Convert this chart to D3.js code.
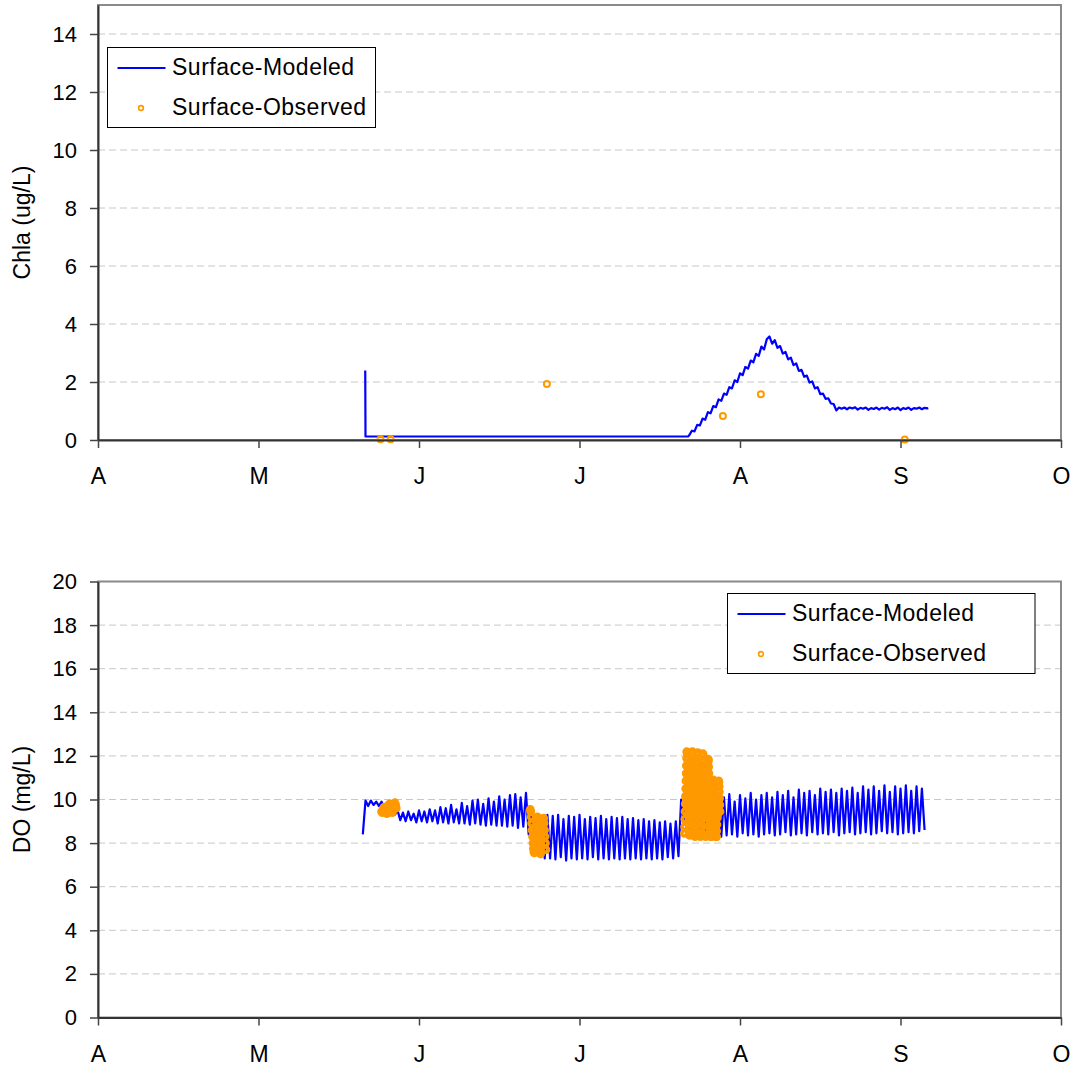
<!DOCTYPE html>
<html>
<head>
<meta charset="utf-8">
<script src="https://cdn.jsdelivr.net/npm/d3@7/dist/d3.min.js"></script>
<style>
  body { margin: 0; background: #fff; }
  svg { display: block; font-family: "Liberation Sans", Arial, sans-serif; }
  .grid line { stroke: #c8c8c8; stroke-width: 1; stroke-dasharray: 7 4; }
  .axis .domain { stroke: #333; stroke-width: 2; }
  .axis .tick line { stroke: #444; stroke-width: 1.5; }
  .axis text { fill: #000; }
</style>
</head>
<body>
<script>
// x axis: days since 1 April, month ticks drawn equally spaced like the original
const monthLabels = ["A", "M", "J", "J", "A", "S", "O"];
const monthDays = [0, 30, 60, 90, 120, 150, 180];

const chlaTicks = [0, 2, 4, 6, 8, 10, 12, 14];
const doTicks = [0, 2, 4, 6, 8, 10, 12, 14, 16, 18, 20];

// Chla surface modeled [day, ug/L]
const chlaModeled = [
  [49.95, 2.4], [50.0, 0.12], [110.3, 0.12],
  [110.5, 0.16], [111, 0.32], [111.5, 0.3], [112, 0.52], [112.5, 0.5], [113, 0.74], [113.5, 0.7],
  [114, 0.96], [114.5, 0.92], [115, 1.17], [115.5, 1.13], [116, 1.4], [116.5, 1.35], [117, 1.6],
  [117.5, 1.56], [118, 1.82], [118.5, 1.78], [119, 2.06], [119.5, 2.0], [120, 2.3], [120.5, 2.24],
  [121, 2.52], [121.5, 2.46], [122, 2.74], [122.5, 2.68], [123, 2.97], [123.5, 2.9], [124, 3.22],
  [124.5, 3.12], [125, 3.47], [125.5, 3.57], [126, 3.32], [126.5, 3.44], [127, 3.18], [127.5, 3.24],
  [128, 2.98], [128.5, 3.04], [129, 2.78], [129.5, 2.84], [130, 2.58], [130.5, 2.64], [131, 2.38],
  [131.5, 2.42], [132, 2.18], [132.5, 2.22], [133, 1.98], [133.5, 2.02], [134, 1.78], [134.5, 1.82],
  [135, 1.58], [135.5, 1.6], [136, 1.42], [136.5, 1.44], [137, 1.26], [137.5, 1.24], [138, 1.02],
  [138.5, 1.12], [139, 1.08], [139.5, 1.12], [140, 1.06], [140.5, 1.12], [141, 1.09], [141.5, 1.13],
  [142, 1.05], [142.5, 1.11], [143, 1.08], [143.5, 1.12], [144, 1.04], [144.5, 1.1], [145, 1.07],
  [145.5, 1.12], [146, 1.05], [146.5, 1.11], [147, 1.08], [147.5, 1.13], [148, 1.04], [148.5, 1.1],
  [149, 1.06], [149.5, 1.12], [150, 1.03], [150.5, 1.1], [151, 1.07], [151.5, 1.12], [152, 1.04],
  [152.5, 1.1], [153, 1.08], [153.5, 1.12], [154, 1.06], [154.5, 1.11], [155, 1.09], [155.2, 1.1]
];

// Chla surface observed
const chlaObsDays = [52.8, 54.7, 83.9, 116.8, 123.9, 150.8];
const chlaObsVals = [0.03, 0.03, 1.93, 0.83, 1.58, 0.02];

// DO surface modeled, one value every half day from day 49.5
const doModeledStart = 49.5;
const doModeledStep = 0.5;
const doModeled = [
  8.4,
  9.95, 9.7, 9.95, 9.75, 9.9, 9.7, 9.9, 9.6, 9.85, 9.5, 9.8, 9.3, 9.5, 9.05,
  9.4, 9.0, 9.45, 9.05, 9.35, 8.95, 9.5, 9.0, 9.45, 8.95,
  9.55, 9.0, 9.5, 8.9, 9.65, 8.95, 9.6, 8.9, 9.75, 8.95,
  9.55, 8.9, 9.85, 8.9, 9.7, 8.85, 9.95, 8.9, 10.0, 8.85,
  9.8, 8.8, 10.05, 8.85, 9.9, 8.8, 10.15, 8.8, 10.0, 8.75,
  10.2, 8.8, 10.25, 8.7, 10.1, 8.75, 10.3, 8.4,
  9.5, 7.9, 9.3, 7.4, 9.2, 7.3, 9.3, 7.3, 9.25, 7.25,
  9.3, 7.35, 9.1, 7.2, 9.25, 7.3, 9.2, 7.25, 9.3, 7.3,
  9.1, 7.25, 9.2, 7.35, 9.15, 7.25, 9.25, 7.3, 9.1, 7.25,
  9.2, 7.3, 9.15, 7.25, 9.2, 7.3, 9.1, 7.25, 9.15, 7.3,
  9.05, 7.25, 9.1, 7.3, 9.0, 7.25, 9.05, 7.3, 8.95, 7.25,
  9.0, 7.35, 8.9, 7.3, 9.0, 7.4,
  10.0, 8.9, 10.2, 8.5, 10.1, 8.45, 10.2, 8.4, 10.15, 8.4,
  10.2, 8.35, 10.1, 8.4, 10.2, 8.3, 10.1, 8.35, 10.25, 8.4,
  9.9, 8.3, 10.2, 8.45, 10.05, 8.35, 10.3, 8.4, 10.0, 8.3,
  10.2, 8.4, 10.3, 8.45, 10.1, 8.35, 10.35, 8.4, 10.2, 8.5,
  10.4, 8.35, 10.1, 8.4, 10.45, 8.45, 10.3, 8.35, 10.4, 8.5,
  10.2, 8.4, 10.5, 8.45, 10.35, 8.4, 10.45, 8.5, 10.3, 8.35,
  10.5, 8.45, 10.4, 8.5, 10.55, 8.4, 10.3, 8.45, 10.6, 8.5,
  10.45, 8.4, 10.6, 8.45, 10.4, 8.55, 10.65, 8.45, 10.35, 8.5,
  10.6, 8.4, 10.5, 8.45, 10.65, 8.5, 10.4, 8.45, 10.6, 8.55,
  10.5, 8.6
];

// DO surface observed, three sonde deployments (start day, step in days, readings)
const doObs1Start = 53.0, doObs1Step = 3 / 24;
const doObs1 = [9.45, 9.4, 9.5, 9.6, 9.65, 9.55, 9.45, 9.4, 9.35, 9.45, 9.6, 9.75,
  9.8, 9.7, 9.55, 9.45, 9.4, 9.5, 9.65, 9.8, 9.85, 9.75, 9.6];

const doObs2Start = 80.8, doObs2Step = 2 / 24;
const doObs2 = [9.55, 9.45, 9.2, 8.9, 8.6, 8.3, 8.0, 7.75, 7.6, 7.55, 7.7, 7.95,
  8.25, 8.55, 8.85, 9.1, 9.2, 9.05, 8.8, 8.5, 8.2, 7.9, 7.65, 7.5,
  7.6, 7.85, 8.15, 8.45, 8.75, 9.05, 9.15, 8.9, 8.6, 8.3, 8.0, 7.7];

const doObs3Start = 109.6, doObs3Step = 1 / 24;
const doObs3 = [
  8.45, 8.75, 9.1, 9.45, 9.8, 10.15, 10.5, 10.85, 11.2, 11.55, 11.9, 12.2,
  12.15, 11.85, 11.5, 11.15, 10.8, 10.45, 10.1, 9.75, 9.4, 9.05, 8.7, 8.45,
  8.35, 8.65, 9.0, 9.35, 9.7, 10.05, 10.4, 10.75, 11.1, 11.45, 11.8, 12.15,
  12.2, 11.9, 11.55, 11.2, 10.85, 10.5, 10.15, 9.8, 9.45, 9.1, 8.75, 8.45,
  8.3, 8.6, 8.95, 9.3, 9.65, 10.0, 10.35, 10.7, 11.05, 11.4, 11.75, 12.1,
  12.15, 11.85, 11.5, 11.15, 10.8, 10.45, 10.1, 9.75, 9.4, 9.05, 8.7, 8.4,
  8.3, 8.65, 9.0, 9.35, 9.7, 10.05, 10.4, 10.75, 11.1, 11.45, 11.8, 12.1,
  12.05, 11.75, 11.4, 11.05, 10.7, 10.35, 10.0, 9.65, 9.3, 8.95, 8.6, 8.35,
  8.3, 8.6, 8.95, 9.3, 9.65, 10.0, 10.35, 10.7, 11.05, 11.4, 11.7, 11.85,
  11.8, 11.5, 11.2, 10.9, 10.55, 10.2, 9.85, 9.5, 9.15, 8.8, 8.5, 8.3,
  8.3, 8.6, 8.9, 9.2, 9.5, 9.8, 10.1, 10.4, 10.65, 10.85, 10.9, 10.85,
  10.7, 10.45, 10.2, 9.95, 9.7, 9.4, 9.1, 8.85, 8.6, 8.4, 8.3, 8.3,
  8.3, 8.55, 8.85, 9.15, 9.45, 9.75, 10.05, 10.35, 10.6, 10.8, 10.85, 10.8,
  10.6, 10.35, 10.05, 9.75, 9.45
];

const legendLabels = ["Surface-Modeled", "Surface-Observed"];

const blue = "#0000ff";
const orange = "#ff9900";

const svg = d3.select("body").append("svg")
  .attr("width", 1076)
  .attr("height", 1067);

const x = d3.scaleLinear().domain([0, 180]).range([98, 1061]);

function timeSeries(start, step, vals) {
  return vals.map((v, i) => [start + i * step, v]);
}

function drawPanel(yMax, top, bottom, ticks, title) {
  const y = d3.scaleLinear().domain([0, yMax]).range([bottom, top]);
  const g = svg.append("g");

  g.append("g").attr("class", "grid")
    .selectAll("line")
    .data(ticks.filter(t => t > 0))
    .join("line")
    .attr("x1", x.range()[0]).attr("x2", x.range()[1])
    .attr("y1", d => y(d)).attr("y2", d => y(d));

  g.append("rect")
    .attr("x", x.range()[0]).attr("y", top)
    .attr("width", x.range()[1] - x.range()[0])
    .attr("height", bottom - top)
    .attr("fill", "none")
    .attr("stroke", "#8a8a8a")
    .attr("stroke-width", 2);

  const plot = g.append("g");

  g.append("g").attr("class", "axis")
    .attr("transform", `translate(${x.range()[0]},0)`)
    .style("font-size", "22px")
    .style("font-family", "inherit")
    .call(d3.axisLeft(y).tickValues(ticks).tickSize(8).tickPadding(13).tickSizeOuter(0));

  g.append("g").attr("class", "axis")
    .attr("transform", `translate(0,${bottom})`)
    .style("font-size", "23px")
    .style("font-family", "inherit")
    .call(d3.axisBottom(x).tickValues(monthDays)
      .tickFormat((d, i) => monthLabels[i])
      .tickSize(8).tickPadding(20).tickSizeOuter(0));

  g.append("text")
    .attr("transform", `translate(30,${(top + bottom) / 2}) rotate(-90)`)
    .attr("text-anchor", "middle")
    .style("font-size", "23px")
    .text(title);

  return { y, plot };
}

function drawLegend(bx, by, bw) {
  const lg = svg.append("g").attr("transform", `translate(${bx},${by})`);
  lg.append("rect")
    .attr("width", bw).attr("height", 80)
    .attr("fill", "#fff").attr("stroke", "#000").attr("stroke-width", 1);
  lg.append("line")
    .attr("x1", 10).attr("x2", 58).attr("y1", 20.5).attr("y2", 20.5)
    .attr("stroke", blue).attr("stroke-width", 2);
  lg.append("circle")
    .attr("cx", 33.5).attr("cy", 60.5).attr("r", 2.4)
    .attr("fill", "none").attr("stroke", orange).attr("stroke-width", 1.6);
  lg.selectAll("text")
    .data(legendLabels)
    .join("text")
    .attr("x", 64.5)
    .attr("y", (d, i) => 27 + i * 40)
    .style("font-size", "23px")
    .style("letter-spacing", "0.5px")
    .text(d => d);
}

// ---- top panel: Chla ----
const p1 = drawPanel(15, 5, 440, chlaTicks, "Chla (ug/L)");
p1.plot.append("path")
  .datum(chlaModeled)
  .attr("fill", "none")
  .attr("stroke", blue)
  .attr("stroke-width", 2.2)
  .attr("stroke-linejoin", "round")
  .attr("d", d3.line().x(d => x(d[0])).y(d => p1.y(d[1])));
p1.plot.selectAll("circle")
  .data(chlaObsDays.map((d, i) => [d, chlaObsVals[i]]))
  .join("circle")
  .attr("cx", d => x(d[0])).attr("cy", d => p1.y(d[1]))
  .attr("r", 3).attr("fill", "none")
  .attr("stroke", orange).attr("stroke-width", 2);
drawLegend(107.5, 47.5, 268);

// ---- bottom panel: DO ----
const p2 = drawPanel(20, 581.5, 1017.5, doTicks, "DO (mg/L)");
p2.plot.append("path")
  .datum(timeSeries(doModeledStart, doModeledStep, doModeled))
  .attr("fill", "none")
  .attr("stroke", blue)
  .attr("stroke-width", 2.2)
  .attr("stroke-linejoin", "round")
  .attr("d", d3.line().x(d => x(d[0])).y(d => p2.y(d[1])));
const doObs = [].concat(
  timeSeries(doObs1Start, doObs1Step, doObs1),
  timeSeries(doObs2Start, doObs2Step, doObs2),
  timeSeries(doObs3Start, doObs3Step, doObs3)
);
// readings are so dense that the markers merge into solid patches
p2.plot.selectAll("circle")
  .data(doObs)
  .join("circle")
  .attr("cx", d => x(d[0])).attr("cy", d => p2.y(d[1]))
  .attr("r", 2.6).attr("fill", "none")
  .attr("stroke", orange).attr("stroke-width", 3.6);
drawLegend(727.5, 593.5, 307.5);
</script>
</body>
</html>
